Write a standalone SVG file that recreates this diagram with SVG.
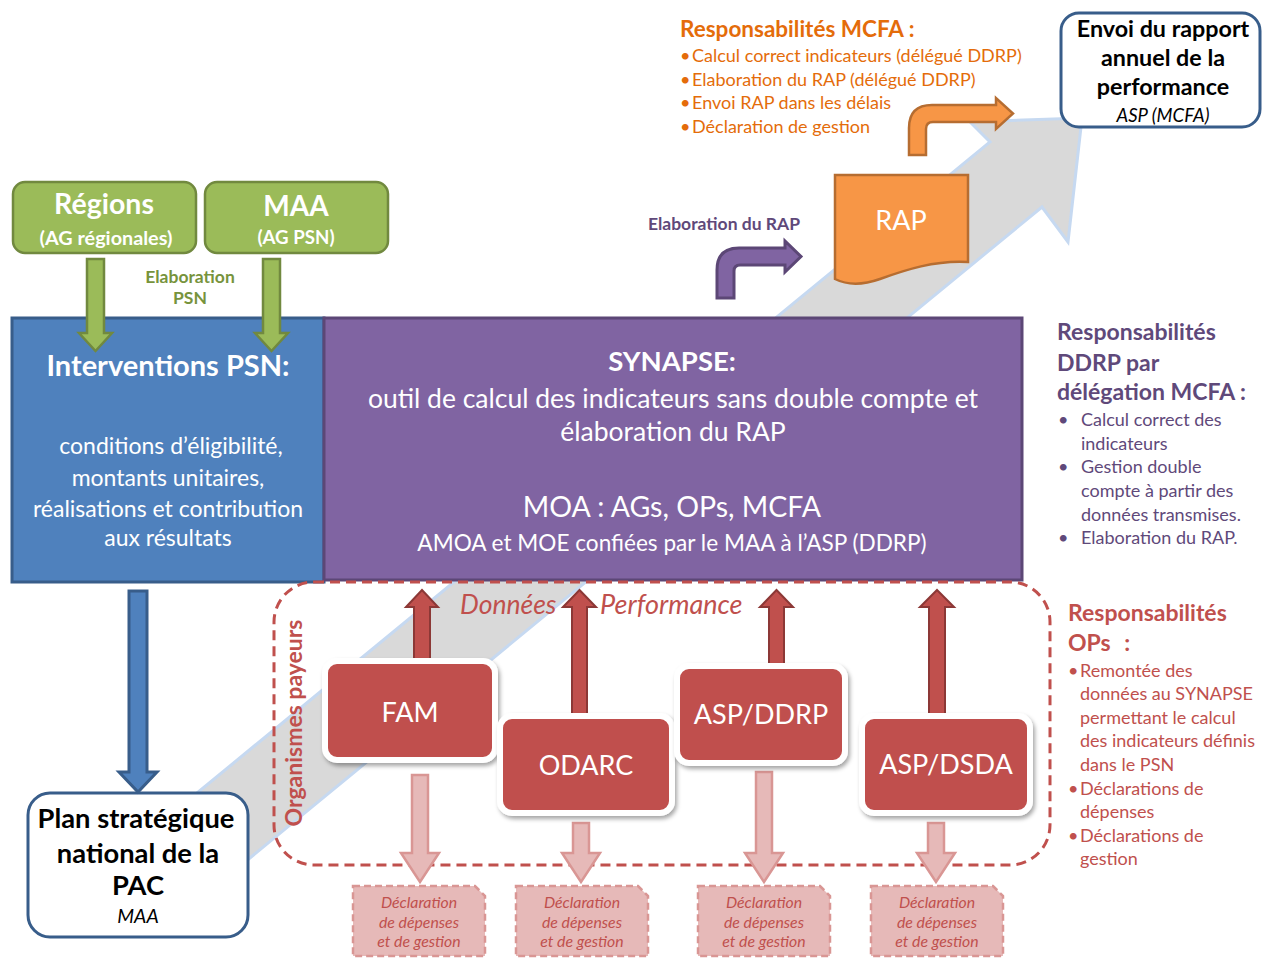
<svg xmlns="http://www.w3.org/2000/svg" width="1262" height="958" viewBox="0 0 1262 958">
<defs>
<filter id="sh" x="-10%" y="-10%" width="125%" height="130%">
<feDropShadow dx="2" dy="3" stdDeviation="2" flood-color="#000" flood-opacity="0.35"/>
</filter>
<style>
text{font-family:Lato,"Open Sans","Liberation Sans",sans-serif}
.w{fill:#fff}
.c{text-anchor:middle}
.b{font-weight:bold}
.i{font-style:italic}
.green{fill:#9bbb59;stroke:#71893f;stroke-width:2.5}
.blue{fill:#4f81bd;stroke:#385d8a;stroke-width:3}
.purp{fill:#8064a2;stroke:#5c4776;stroke-width:3}
.redup{fill:#c0504d;stroke:#8c3836;stroke-width:2}
.pink{fill:#e6b9b8;stroke:#d99694;stroke-width:2.5}
.decl{fill:#e6b9b8;stroke:#d99694;stroke-width:2.5;stroke-dasharray:7 4}
.rbox{fill:#c0504d;stroke:#fff;stroke-width:6;filter:url(#sh)}
.rt{fill:#fff;font-size:27px;text-anchor:middle}
.dt{fill:#c0504d;font-size:15.8px;font-style:italic;text-anchor:middle}
.or{fill:#e46c0a}
.pu{fill:#5f497a}
.re{fill:#c0504d}
</style>
</defs>

<g id="big-arrow">
<polygon points="130,848 990,142 970,122 1082,118 1068,242 1042,207 183,913" fill="#d9d9d9" stroke="#c6d9f1" stroke-width="3" stroke-linejoin="miter"/>
</g>

<g id="mcfa-text" font-size="18">
<text x="680" y="37" class="or b" font-size="22.5">Responsabilités MCFA :</text>
<text x="680" y="62" class="or">•</text><text x="692" y="62" class="or">Calcul correct indicateurs (délégué DDRP)</text>
<text x="680" y="86" class="or">•</text><text x="692" y="86" class="or">Elaboration du RAP (délégué DDRP)</text>
<text x="680" y="109" class="or">•</text><text x="692" y="109" class="or">Envoi RAP dans les délais</text>
<text x="680" y="133" class="or">•</text><text x="692" y="133" class="or">Déclaration de gestion</text>
</g>

<g id="regions">
<rect x="13" y="182" width="183" height="71" rx="12" class="green"/>
<text x="104" y="214" class="w c b" font-size="28.5">Régions</text>
<text x="106" y="245" class="w c b" font-size="19.8">(AG régionales)</text>
</g>
<g id="maa">
<rect x="205" y="182" width="183" height="71" rx="12" class="green"/>
<text x="296" y="216" class="w c b" font-size="28">MAA</text>
<text x="296" y="244" class="w c b" font-size="18.7">(AG PSN)</text>
</g>
<g id="elab-psn-label">
<text x="190" y="283" class="c b" font-size="17.5" fill="#77933c">Elaboration</text>
<text x="190" y="304" class="c b" font-size="17.5" fill="#77933c">PSN</text>
</g>

<g id="interventions">
<rect x="12" y="318" width="312" height="264" class="blue"/>
<text x="168" y="376" class="w c b" font-size="29">Interventions PSN:</text>
<text x="171" y="454" class="w c" font-size="23">conditions d’éligibilité,</text>
<text x="168" y="486" class="w c" font-size="23">montants unitaires,</text>
<text x="168" y="517" class="w c" font-size="23">réalisations et contribution</text>
<text x="168" y="546" class="w c" font-size="23">aux résultats</text>
</g>

<g id="synapse">
<rect x="324" y="318" width="698" height="262" class="purp"/>
<text x="672" y="371" class="w c b" font-size="27.5">SYNAPSE:</text>
<text x="673" y="408" class="w c" font-size="26.5">outil de calcul des indicateurs sans double compte et</text>
<text x="673" y="441" class="w c" font-size="26.5">élaboration du RAP</text>
<text x="672" y="517" class="w c" font-size="28.5">MOA : AGs, OPs, MCFA</text>
<text x="672" y="551" class="w c" font-size="22.6">AMOA et MOE confiées par le MAA à l’ASP (DDRP)</text>
</g>

<g id="rap">
<path d="M835,175 H968 V262 C935,260 905,270 880,279 C860,286 845,284 835,279 Z" fill="#f79646" stroke="#b66d31" stroke-width="2.5"/>
<text x="901" y="230" class="w c" font-size="27">RAP</text>
</g>
<g id="elab-rap-label">
<text x="724" y="230" class="c b pu" font-size="17.5">Elaboration du RAP</text>
</g>

<g id="envoi">
<rect x="1061" y="13" width="199" height="114" rx="18" fill="#fff" stroke="#385d8a" stroke-width="3"/>
<text x="1163" y="37" class="c b" font-size="23.3" fill="#000">Envoi du rapport</text>
<text x="1163" y="66" class="c b" font-size="23.3" fill="#000">annuel de la</text>
<text x="1163" y="95" class="c b" font-size="23.3" fill="#000">performance</text>
<text x="1163" y="122" class="c i" font-size="18.5" fill="#000">ASP (MCFA)</text>
</g>

<g id="plan">
<rect x="28" y="793" width="220" height="144" rx="22" fill="#fff" stroke="#385d8a" stroke-width="3"/>
<text x="136" y="828" class="c b" font-size="27.3" fill="#000">Plan stratégique</text>
<text x="138" y="863" class="c b" font-size="27.3" fill="#000">national de la</text>
<text x="138" y="895" class="c b" font-size="27.3" fill="#000">PAC</text>
<text x="138" y="923" class="c i" font-size="19.5" fill="#000">MAA</text>
</g>

<g id="organismes-payeurs">
<rect x="274" y="582" width="776" height="283" rx="40" fill="none" stroke="#c0504d" stroke-width="3" stroke-dasharray="10 6"/>
<text transform="translate(302,723) rotate(-90)" class="c b re" font-size="23">Organismes payeurs</text>
</g>

<g id="ddrp-text" font-size="18">
<text x="1057" y="340" class="b pu" font-size="23">Responsabilités</text>
<text x="1057" y="371" class="b pu" font-size="23">DDRP par</text>
<text x="1057" y="400" class="b pu" font-size="23">délégation MCFA :</text>
<text x="1058" y="426" class="pu">•</text><text x="1081" y="426" class="pu">Calcul correct des</text>
<text x="1081" y="450" class="pu">indicateurs</text>
<text x="1058" y="473" class="pu">•</text><text x="1081" y="473" class="pu">Gestion double</text>
<text x="1081" y="497" class="pu">compte à partir des</text>
<text x="1081" y="521" class="pu">données transmises.</text>
<text x="1058" y="544" class="pu">•</text><text x="1081" y="544" class="pu">Elaboration du RAP.</text>
</g>

<g id="ops-text" font-size="18">
<text x="1068" y="621" class="b re" font-size="23">Responsabilités</text>
<text x="1068" y="651" class="b re" font-size="23">OPs <tspan dx="8">:</tspan></text>
<text x="1068" y="677" class="re">•</text><text x="1080" y="677" class="re">Remontée des</text>
<text x="1080" y="700" class="re">données au SYNAPSE</text>
<text x="1080" y="724" class="re">permettant le calcul</text>
<text x="1080" y="747" class="re">des indicateurs définis</text>
<text x="1080" y="771" class="re">dans le PSN</text>
<text x="1068" y="795" class="re">•</text><text x="1080" y="795" class="re">Déclarations de</text>
<text x="1080" y="818" class="re">dépenses</text>
<text x="1068" y="842" class="re">•</text><text x="1080" y="842" class="re">Déclarations de</text>
<text x="1080" y="865" class="re">gestion</text>
</g>

<g id="donnees-label">
<text x="460" y="614" class="i re" font-size="26.5">Données</text>
<text x="600" y="614" class="i re" font-size="27">Performance</text>
</g>

<g id="connectors">
<path class="green" d="M87,259 H104 V333 H112 L95.5,351 L79,333 H87 Z"/>
<path class="green" d="M263,259 H280 V333 H288 L271.5,351 L255,333 H263 Z"/>
<path class="blue" d="M129,591 H147 V772 H157 L138,792 L119,772 H129 Z"/>
<path class="purp" stroke-width="2.5" d="M717,298 V270 Q717,248 739,248 H785 V241 L801,256.5 L785,272 V265 H740 Q734,265 734,271 V298 Z"/>
<path fill="#f79646" stroke="#b66d31" stroke-width="2.5" d="M909,155 V128 Q909,105 932,105 H996 V98 L1013,113.5 L996,129 V122 H933 Q926,122 926,129 V155 Z"/>
<path class="redup" d="M414,662 V607 H406 L422,590 L438,607 H430 V662 Z"/>
<path class="redup" d="M572,714 V607 H563 L579.5,590 L596,607 H587 V714 Z"/>
<path class="redup" d="M769,666 V607 H760 L776.5,590 L793,607 H784 V666 Z"/>
<path class="redup" d="M929,714 V607 H920 L937,590 L954,607 H945 V714 Z"/>
<path class="pink" d="M412,775 V853 H401 L420,882 L439,853 H428 V775 Z"/>
<path class="pink" d="M573,823 V853 H562 L581,882 L600,853 H589 V823 Z"/>
<path class="pink" d="M756,772 V853 H745 L764,882 L783,853 H772 V772 Z"/>
<path class="pink" d="M928,823 V853 H917 L936,882 L955,853 H944 V823 Z"/>
</g>

<g id="fam">
<rect x="325" y="661" width="170" height="99" rx="12" class="rbox"/>
<text x="410" y="722" class="rt">FAM</text>
</g>
<g id="odarc">
<rect x="500" y="716" width="172" height="97" rx="12" class="rbox"/>
<text x="586" y="775" class="rt">ODARC</text>
</g>
<g id="asp-ddrp">
<rect x="677" y="666" width="168" height="97" rx="12" class="rbox"/>
<text x="761" y="724" class="rt">ASP/DDRP</text>
</g>
<g id="asp-dsda">
<rect x="862" y="716" width="168" height="97" rx="12" class="rbox"/>
<text x="946" y="774" class="rt">ASP/DSDA</text>
</g>

<g id="decl-1">
<path class="decl" d="M353,886 H475 L485,896 V956 H353 Z"/>
<text x="419" y="908" class="dt">Déclaration</text>
<text x="419" y="928" class="dt">de dépenses</text>
<text x="419" y="947" class="dt">et de gestion</text>
</g>
<g id="decl-2">
<path class="decl" d="M516,886 H638 L648,896 V956 H516 Z"/>
<text x="582" y="908" class="dt">Déclaration</text>
<text x="582" y="928" class="dt">de dépenses</text>
<text x="582" y="947" class="dt">et de gestion</text>
</g>
<g id="decl-3">
<path class="decl" d="M698,886 H820 L830,896 V956 H698 Z"/>
<text x="764" y="908" class="dt">Déclaration</text>
<text x="764" y="928" class="dt">de dépenses</text>
<text x="764" y="947" class="dt">et de gestion</text>
</g>
<g id="decl-4">
<path class="decl" d="M871,886 H993 L1003,896 V956 H871 Z"/>
<text x="937" y="908" class="dt">Déclaration</text>
<text x="937" y="928" class="dt">de dépenses</text>
<text x="937" y="947" class="dt">et de gestion</text>
</g>
</svg>
